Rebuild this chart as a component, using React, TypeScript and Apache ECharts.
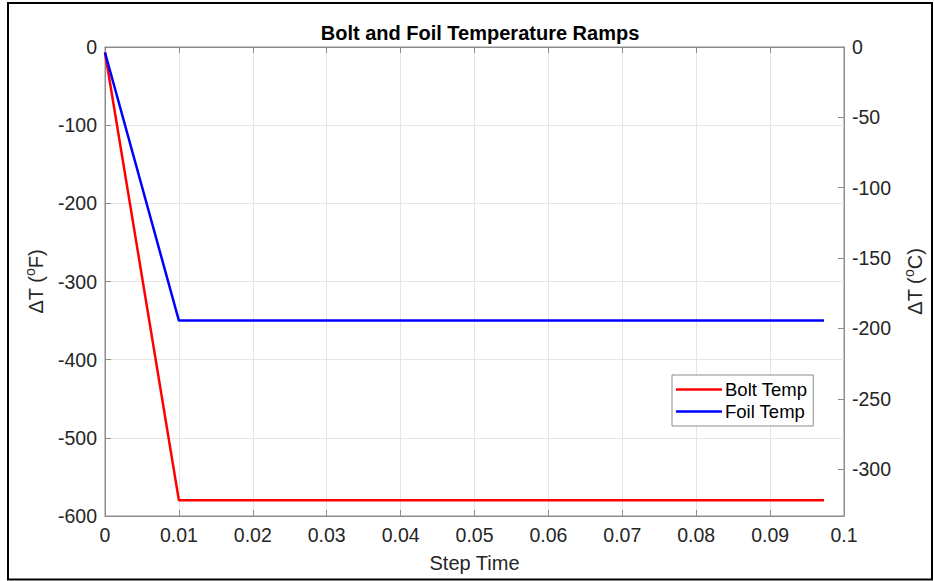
import React, { useEffect, useRef } from "react";
import * as echarts from "echarts";

const boltTemp: [number, number][] = [
  [0, -7],
  [0.01, -580],
  [0.0973, -580],
];
const foilTemp: [number, number][] = [
  [0, -7],
  [0.01, -350],
  [0.0973, -350],
];
const rightTicks = [0, -50, -100, -150, -200, -250, -300];

const FONT = "Liberation Sans, Arial, sans-serif";
const TXT = "#262626";
const AX = "#8c8c8c";

export default function App() {
  const ref = useRef<HTMLDivElement>(null);
  useEffect(() => {
    if (!ref.current) return;
    const chart = echarts.init(ref.current, undefined, { renderer: "svg" });
    const nameRich = {
      sup: { fontSize: 14, verticalAlign: "top", padding: [0, 0, 12, 0], color: TXT, fontFamily: FONT },
    };
    chart.setOption({
      animation: false,
      backgroundColor: "#fff",
      textStyle: { fontFamily: FONT },
      title: {
        text: "Bolt and Foil Temperature Ramps",
        left: 475,
        textAlign: "center",
        top: 18,
        textStyle: { fontSize: 20, fontWeight: "bold", color: "#000", fontFamily: FONT },
      },
      grid: {
        left: 105,
        right: 90,
        top: 47,
        bottom: 65,
        show: true,
        borderColor: AX,
        borderWidth: 1,
        backgroundColor: "transparent",
      },
      legend: {
        orient: "vertical",
        left: 672,
        top: 375,
        padding: [5, 6, 5, 4],
        itemGap: 3,
        itemWidth: 46,
        itemHeight: 12,
        backgroundColor: "#fff",
        borderColor: AX,
        borderWidth: 1,
        borderRadius: 0,
        textStyle: { fontSize: 18.5, color: "#000", fontFamily: FONT, padding: [0, 0, 0, -2] },
        data: [
          { name: "Bolt Temp", icon: "path://M0,5 L46,5 L46,7.5 L0,7.5 Z" },
          { name: "Foil Temp", icon: "path://M0,5 L46,5 L46,7.5 L0,7.5 Z" },
        ],
      },
      xAxis: [
        {
          type: "value",
          min: 0,
          max: 0.1,
          interval: 0.01,
          name: "Step Time",
          nameLocation: "middle",
          nameGap: 37,
          nameTextStyle: { fontSize: 20, color: TXT, fontFamily: FONT },
          axisLine: { show: true, onZero: false, lineStyle: { color: AX } },
          axisTick: { show: true, inside: true, length: 6, lineStyle: { color: AX } },
          axisLabel: { fontSize: 19.5, color: TXT, margin: 9, fontFamily: FONT },
          splitLine: { show: true, lineStyle: { color: "#e5e5e5" } },
        },
        {
          type: "value",
          position: "top",
          min: 0,
          max: 0.1,
          interval: 0.01,
          axisLine: { show: true, onZero: false, lineStyle: { color: AX } },
          axisTick: { show: true, inside: true, length: 6, lineStyle: { color: AX } },
          axisLabel: { show: false },
          splitLine: { show: false },
        },
      ],
      yAxis: [
        {
          type: "value",
          min: -600,
          max: 0,
          interval: 100,
          name: "ΔT ({sup|o}F)",
          nameLocation: "middle",
          nameGap: 56,
          nameRotate: 90,
          nameTextStyle: { fontSize: 20, color: TXT, fontFamily: FONT, rich: nameRich },
          axisLine: { show: true, onZero: false, lineStyle: { color: AX } },
          axisTick: { show: true, inside: true, length: 6, lineStyle: { color: AX } },
          axisLabel: { fontSize: 19.5, color: TXT, margin: 8, fontFamily: FONT },
          splitLine: { show: true, lineStyle: { color: "#e5e5e5" } },
        },
        {
          type: "value",
          position: "right",
          min: -3000 / 9,
          max: 0,
          name: "ΔT ({sup|o}C)",
          nameLocation: "middle",
          nameGap: 58,
          nameRotate: 90,
          nameTextStyle: { fontSize: 20, color: TXT, fontFamily: FONT, rich: nameRich },
          axisLine: { show: true, onZero: false, lineStyle: { color: AX } },
          axisTick: { show: true, inside: true, length: 6, customValues: rightTicks, lineStyle: { color: AX } },
          axisLabel: { fontSize: 19.5, color: TXT, margin: 8, fontFamily: FONT, customValues: rightTicks },
          splitLine: { show: false },
        },
      ],
      series: [
        {
          name: "Bolt Temp",
          type: "line",
          data: boltTemp,
          showSymbol: false,
          symbol: "none",
          color: "#ff0000",
          lineStyle: { color: "#ff0000", width: 2.5 },
          itemStyle: { color: "#ff0000" },
        },
        {
          name: "Foil Temp",
          type: "line",
          data: foilTemp,
          showSymbol: false,
          symbol: "none",
          color: "#0000ff",
          lineStyle: { color: "#0000ff", width: 2.5 },
          itemStyle: { color: "#0000ff" },
        },
      ],
      graphic: [
        {
          type: "rect",
          shape: { x: 8, y: 3, width: 924, height: 576.5 },
          style: { fill: "none", stroke: "#000", lineWidth: 2 },
          silent: true,
        },
      ],
    });
    return () => chart.dispose();
  }, []);
  return (
    <div
      ref={ref}
      style={{ position: "fixed", left: 0, top: 0, width: 934, height: 581 }}
    />
  );
}
